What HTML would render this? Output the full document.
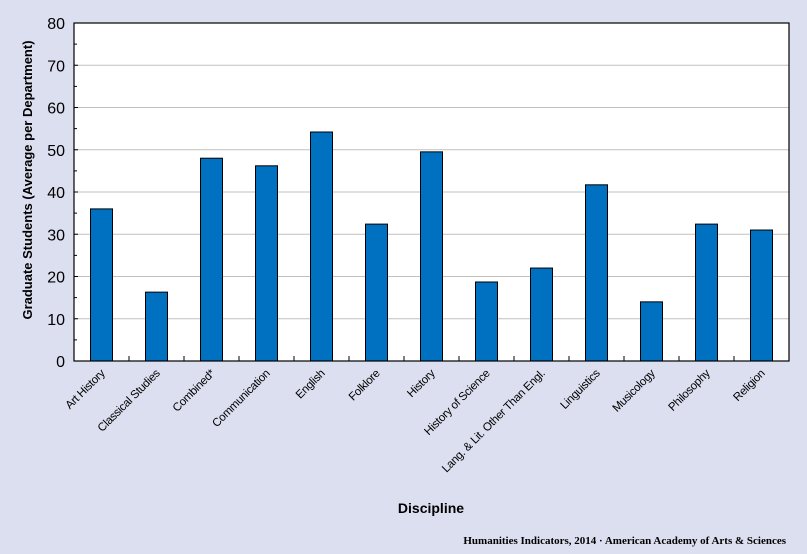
<!DOCTYPE html>
<html><head><meta charset="utf-8"><style>
body{margin:0;background:#dcdff0;}
svg{display:block;font-family:"Liberation Sans",Arial,sans-serif;}
</style></head><body>
<svg width="807" height="554" viewBox="0 0 807 554">
<rect x="0" y="0" width="807" height="554" fill="#dcdff0"/>
<rect x="74" y="23" width="715" height="338" fill="#fff"/>
<g id="grid"></g><g id="bars"></g>
<rect x="74" y="23" width="715" height="338" fill="none" stroke="#000" stroke-width="1.2"/>
<g id="ticks"></g><g id="labels"></g>
<text x="12" y="0" transform="translate(32,192) rotate(-90)" text-anchor="middle" font-size="13" font-weight="bold">Graduate Students  (Average per Department)</text>
<text x="431" y="513" text-anchor="middle" font-size="14" font-weight="bold">Discipline</text>
<text x="786" y="544" text-anchor="end" font-size="11" font-weight="bold" font-family="Liberation Serif,serif">Humanities  Indicators, 2014 · American Academy of Arts &amp; Sciences</text>
</svg>
<script>
const categories=["Art History","Classical Studies","Combined*","Communication","English","Folklore","History","History of Science","Lang. & Lit. Other Than Engl.","Linguistics","Musicology","Philosophy","Religion"];
const values=[36,16.3,48,46.2,54.2,32.4,49.5,18.7,22,41.7,14,32.4,31];
const yTicks=[0,10,20,30,40,50,60,70,80];
const NS="http://www.w3.org/2000/svg";
const L=74,T=23,W=715,H=338,yMax=80;
const y=v=>T+H-v/yMax*H;
const band=W/categories.length;
const x=i=>L+i*band;
function mk(tag,attrs,parent,txt){const e=document.createElementNS(NS,tag);for(const k in attrs)e.setAttribute(k,attrs[k]);if(txt!==undefined)e.textContent=txt;document.getElementById(parent).appendChild(e);return e;}
yTicks.forEach(t=>{
 if(t>0&&t<80){const g=mk('line',{x1:L,x2:L+W,y1:y(t),y2:y(t),stroke:'#c0c0c0','stroke-width':1},'grid');
 
 }
 const lb=mk('text',{x:L-9,y:y(t)+6,'text-anchor':'end','font-size':16},'labels',String(t));
 
 
 mk('line',{x1:L,x2:L+4,y1:y(t),y2:y(t),stroke:'#000'},'ticks');
 if(t<80)mk('line',{x1:L,x2:L+3,y1:y(t+5),y2:y(t+5),stroke:'#000'},'ticks');
});
categories.forEach((c,i)=>{
 const bw=22,cx=x(i)+band/2;
 const r=mk('rect',{x:cx-bw/2,y:y(values[i]),width:bw,height:y(0)-y(values[i]),fill:'#0070c0',stroke:'#000','stroke-width':1},'bars');
 
 
 if(i>0)mk('line',{x1:x(i),x2:x(i),y1:T+H,y2:T+H-5,stroke:'#000'},'ticks');
 const tl=mk('text',{transform:`translate(${cx+4},${T+H+13}) rotate(-45)`,'text-anchor':'end','font-size':11.5,'letter-spacing':'-0.3'},'labels',c);
 
 
});
</script>
</body></html>
